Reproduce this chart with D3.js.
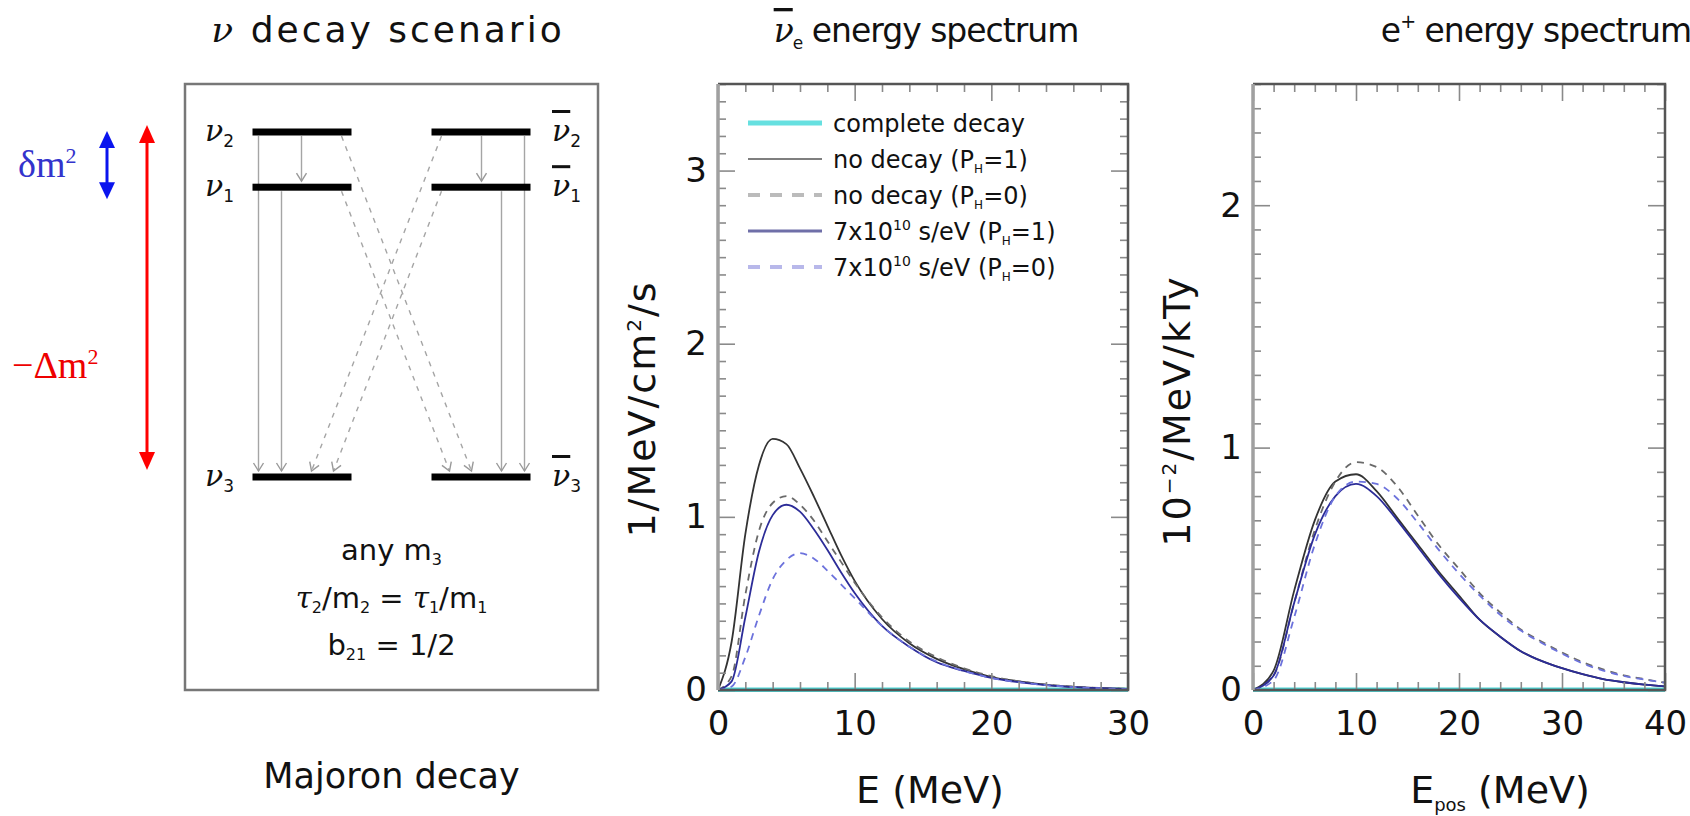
<!DOCTYPE html>
<html lang="en">
<head>
<meta charset="utf-8">
<title>Majoron decay spectra</title>
<script src="https://cdn.jsdelivr.net/npm/d3@7"></script>
<style>
  body { margin: 0; background: #fff; }
  svg text { font-family: "DejaVu Sans", sans-serif; fill: #111; }
  .serif { font-family: "DejaVu Serif", serif; font-style: italic; }
  .times { font-family: "Liberation Serif", serif; }
</style>
</head>
<body>
<svg id="chart" width="1690" height="816"></svg>
<script>
"use strict";

// ---- values ----

// anti-nu_e flux spectrum, 1/MeV/cm^2/s
const nuEnergy      = [0, 1, 2, 3, 4, 5, 6, 7, 8, 9, 10, 12, 14, 16, 18, 20, 22, 24, 26, 28, 30];
const nuComplete    = [0, 0, 0, 0, 0, 0, 0, 0, 0, 0, 0, 0, 0, 0, 0, 0, 0, 0, 0, 0, 0];
const nuNoDecayPH1  = [0, 0.28, 0.90, 1.30, 1.45, 1.42, 1.28, 1.12, 0.95, 0.78, 0.63, 0.41, 0.27, 0.18, 0.12, 0.075, 0.05, 0.03, 0.018, 0.01, 0.006];
const nuNoDecayPH0  = [0, 0.08, 0.55, 0.92, 1.08, 1.12, 1.07, 0.98, 0.86, 0.74, 0.62, 0.42, 0.28, 0.19, 0.125, 0.08, 0.05, 0.032, 0.02, 0.012, 0.007];
const nuDecayPH1    = [0, 0.05, 0.42, 0.80, 1.01, 1.07, 1.03, 0.93, 0.81, 0.68, 0.56, 0.37, 0.25, 0.16, 0.11, 0.07, 0.045, 0.028, 0.017, 0.01, 0.005];
const nuDecayPH0    = [0, 0.02, 0.19, 0.43, 0.64, 0.75, 0.79, 0.76, 0.69, 0.61, 0.53, 0.37, 0.25, 0.165, 0.11, 0.07, 0.045, 0.028, 0.017, 0.01, 0.005];

// positron spectrum, 10^-2/MeV/kTy
const posEnergy     = [0, 2, 4, 6, 8, 10, 12, 14, 16, 18, 20, 22, 24, 26, 28, 30, 32, 34, 36, 38, 40];
const posComplete   = [0, 0, 0, 0, 0, 0, 0, 0, 0, 0, 0, 0, 0, 0, 0, 0, 0, 0, 0, 0, 0];
const posNoDecayPH1 = [0, 0.08, 0.41, 0.70, 0.86, 0.89, 0.82, 0.71, 0.60, 0.49, 0.39, 0.29, 0.22, 0.16, 0.12, 0.09, 0.065, 0.045, 0.032, 0.022, 0.015];
const posNoDecayPH0 = [0, 0.06, 0.36, 0.66, 0.86, 0.94, 0.92, 0.84, 0.72, 0.60, 0.50, 0.40, 0.32, 0.25, 0.20, 0.155, 0.115, 0.085, 0.06, 0.045, 0.03];
const posDecayPH1   = [0, 0.06, 0.36, 0.64, 0.80, 0.85, 0.80, 0.70, 0.59, 0.48, 0.38, 0.29, 0.22, 0.16, 0.12, 0.09, 0.065, 0.045, 0.032, 0.022, 0.015];
const posDecayPH0   = [0, 0.04, 0.30, 0.60, 0.80, 0.86, 0.85, 0.79, 0.69, 0.58, 0.48, 0.39, 0.31, 0.245, 0.195, 0.15, 0.11, 0.08, 0.058, 0.043, 0.03];

const nuTicksY  = [0, 1, 2, 3];
const nuTicksX  = [0, 10, 20, 30];
const posTicksY = [0, 1, 2];
const posTicksX = [0, 10, 20, 30, 40];

const legendKeys = ["complete", "noDecay1", "noDecay0", "decay1", "decay0"];

// level scheme: relative mass position (nu3 bottom, nu2 top)
const levels = [
  { id: "2", mass: 1.0 },
  { id: "1", mass: 0.84 },
  { id: "3", mass: 0.0 }
];
// decays drawn on the neutrino side, mirrored for antineutrinos
const decays = [
  { from: "2", to: "1", flip: false },
  { from: "2", to: "3", flip: false },
  { from: "1", to: "3", flip: false },
  { from: "2", to: "3", flip: true },
  { from: "1", to: "3", flip: true }
];

// ---- styles ----
const styles = {
  complete: { stroke: "#4dd4d4", width: 5 },
  noDecay1: { stroke: "#333",    width: 1.8 },
  noDecay0: { stroke: "#6a6a6a", width: 1.8, dash: "7,6" },
  decay1:   { stroke: "#2c2c98", width: 1.8 },
  decay0:   { stroke: "#6c72dc", width: 1.8, dash: "7,6" }
};
const legendStyles = {
  complete: { stroke: "#66e0e0", width: 5 },
  noDecay1: { stroke: "#555",    width: 1.5 },
  noDecay0: { stroke: "#bbb",    width: 4, dash: "12,10" },
  decay1:   { stroke: "#6f6fa8", width: 3 },
  decay0:   { stroke: "#b8b8ea", width: 4, dash: "12,10" }
};

const svg = d3.select("#chart");
const plotTop = 84, plotBottom = 690;

// ---------- spectrum panels ----------
function spectrumPanel(cfg) {
  const x = d3.scaleLinear().domain(cfg.xDomain).range([cfg.left, cfg.right]);
  const y = d3.scaleLinear().domain(cfg.yDomain).range([plotBottom, plotTop]);
  const g = svg.append("g");

  const clipId = "clip" + cfg.left;
  g.append("clipPath").attr("id", clipId).append("rect")
    .attr("x", cfg.left).attr("y", plotTop - 2)
    .attr("width", cfg.right - cfg.left).attr("height", plotBottom - plotTop + 4);

  const line = d3.line().x(d => x(d[0])).y(d => y(d[1])).curve(d3.curveMonotoneX);
  const curves = g.append("g").attr("clip-path", `url(#${clipId})`);
  cfg.series.forEach(s => {
    const st = styles[s.key];
    curves.append("path")
      .datum(cfg.energy.map((e, i) => [e, s.values[i]]))
      .attr("fill", "none")
      .attr("stroke", st.stroke)
      .attr("stroke-width", st.width)
      .attr("stroke-dasharray", st.dash || null)
      .attr("d", line);
  });

  const majorX = cfg.ticksX;
  const minorX = d3.range(cfg.xDomain[0], cfg.xDomain[1] + 0.01, 2).filter(v => !majorX.includes(v));
  const majorY = d3.range(cfg.yDomain[0], cfg.yDomain[1] + 0.01, 1);
  const minorY = d3.range(cfg.yDomain[0], cfg.yDomain[1] + 0.001, 0.1)
    .map(v => +v.toFixed(2)).filter(v => Math.abs(v - Math.round(v)) > 0.01);

  const axes = [
    [d3.axisBottom(x).tickValues(minorX), `translate(0,${plotBottom})`, 8],
    [d3.axisTop(x).tickValues(minorX), `translate(0,${plotTop})`, 8],
    [d3.axisTop(x).tickValues(majorX), `translate(0,${plotTop})`, 17],
    [d3.axisLeft(y).tickValues(minorY), `translate(${cfg.left},0)`, 8],
    [d3.axisRight(y).tickValues(minorY), `translate(${cfg.right},0)`, 8],
    [d3.axisRight(y).tickValues(majorY), `translate(${cfg.right},0)`, 17]
  ];
  axes.forEach(([ax, tr, len]) => {
    const a = g.append("g").attr("transform", tr)
      .call(ax.tickSize(-len).tickFormat(""));
    a.select(".domain").remove();
    a.selectAll("line").attr("stroke", "#8a8a8a").attr("stroke-width", 1.6);
  });

  // labelled axes
  const bx = g.append("g").attr("transform", `translate(0,${plotBottom})`)
    .call(d3.axisBottom(x).tickValues(majorX).tickSize(-17).tickPadding(21).tickFormat(d3.format("d")));
  const ly = g.append("g").attr("transform", `translate(${cfg.left},0)`)
    .call(d3.axisLeft(y).tickValues(cfg.ticksY).tickSize(-17).tickPadding(11).tickFormat(d3.format("d")));
  [bx, ly].forEach(a => {
    a.select(".domain").remove();
    a.selectAll("line").attr("stroke", "#8a8a8a").attr("stroke-width", 1.6);
    a.selectAll("text").attr("font-size", 34).attr("font-family", "DejaVu Sans").attr("fill", "#111");
  });

  // frame
  g.append("path")
    .attr("d", `M${cfg.left},${plotTop}H${cfg.right}V${plotBottom}H${cfg.left}`)
    .attr("fill", "none").attr("stroke", "#555").attr("stroke-width", 2.5);
  g.append("line")
    .attr("x1", cfg.left).attr("x2", cfg.left).attr("y1", plotTop).attr("y2", plotBottom)
    .attr("stroke", "#a0a0a0").attr("stroke-width", 3.5);

  return { x, y, g };
}

spectrumPanel({
  left: 718, right: 1128, xDomain: [0, 30], yDomain: [0, 3.5],
  ticksX: nuTicksX, ticksY: nuTicksY, energy: nuEnergy,
  series: [
    { key: "complete", values: nuComplete },
    { key: "noDecay1", values: nuNoDecayPH1 },
    { key: "noDecay0", values: nuNoDecayPH0 },
    { key: "decay1",   values: nuDecayPH1 },
    { key: "decay0",   values: nuDecayPH0 }
  ]
});

spectrumPanel({
  left: 1253, right: 1665, xDomain: [0, 40], yDomain: [0, 2.5],
  ticksX: posTicksX, ticksY: posTicksY, energy: posEnergy,
  series: [
    { key: "complete", values: posComplete },
    { key: "noDecay1", values: posNoDecayPH1 },
    { key: "noDecay0", values: posNoDecayPH0 },
    { key: "decay1",   values: posDecayPH1 },
    { key: "decay0",   values: posDecayPH0 }
  ]
});

// legend in the middle panel
const legend = svg.append("g").attr("transform", "translate(748,123)");
legendKeys.forEach((k, i) => {
  const st = legendStyles[k];
  const row = legend.append("g").attr("transform", `translate(0,${i * 36})`);
  row.append("line").attr("x1", 0).attr("x2", 74)
    .attr("stroke", st.stroke).attr("stroke-width", st.width)
    .attr("stroke-dasharray", st.dash || null);
  const t = row.append("text").attr("x", 85).attr("y", 9).attr("font-size", 24);
  if (k === "complete") t.text("complete decay");
  else {
    const ph = k.endsWith("1") ? "1" : "0";
    if (k.startsWith("noDecay")) t.append("tspan").text("no decay (P");
    else {
      t.append("tspan").text("7x10");
      t.append("tspan").attr("dy", -10).attr("font-size", 14).text("10");
      t.append("tspan").attr("dy", 10).text(" s/eV (P");
    }
    t.append("tspan").attr("dy", 5).attr("font-size", 12).text("H");
    t.append("tspan").attr("dy", -5).text("=" + ph + ")");
  }
});

// titles and axis labels
function title(xc, size, spacing, build) {
  const t = svg.append("text").attr("x", xc).attr("y", 42)
    .attr("text-anchor", "middle").attr("font-size", size)
    .attr("letter-spacing", spacing);
  build(t);
}
title(388, 36, 3, t => {
  t.append("tspan").attr("class", "serif").text("ν");
  t.append("tspan").text(" decay scenario");
});
title(926, 33, -1, t => {
  t.append("tspan").attr("class", "serif").style("text-decoration", "overline").text("ν");
  t.append("tspan").attr("dy", 7).attr("font-size", 17).text("e");
  t.append("tspan").attr("dy", -7).text(" energy spectrum");
});
title(1536, 33, -1, t => {
  t.append("tspan").text("e");
  t.append("tspan").attr("dy", -14).attr("font-size", 19).text("+");
  t.append("tspan").attr("dy", 14).text(" energy spectrum");
});

svg.append("text").attr("x", 930).attr("y", 803)
  .attr("text-anchor", "middle").attr("font-size", 38).text("E (MeV)");
const xl2 = svg.append("text").attr("x", 1500).attr("y", 803)
  .attr("text-anchor", "middle").attr("font-size", 38);
xl2.append("tspan").text("E");
xl2.append("tspan").attr("dy", 8).attr("font-size", 18).text("pos");
xl2.append("tspan").attr("dy", -8).text(" (MeV)");

const yl1 = svg.append("text").attr("transform", "translate(655,409) rotate(-90)")
  .attr("text-anchor", "middle").attr("font-size", 38).attr("letter-spacing", 2);
yl1.append("tspan").text("1/MeV/cm");
yl1.append("tspan").attr("dy", -14).attr("font-size", 20).text("2");
yl1.append("tspan").attr("dy", 14).text("/s");

const yl2 = svg.append("text").attr("transform", "translate(1190,411) rotate(-90)")
  .attr("text-anchor", "middle").attr("font-size", 38).attr("letter-spacing", 2);
yl2.append("tspan").text("10");
yl2.append("tspan").attr("dy", -14).attr("font-size", 20).text("−2");
yl2.append("tspan").attr("dy", 14).text("/MeV/kTy");

// ---------- decay scheme panel ----------
const box = { left: 185, right: 598, top: 84, bottom: 690 };
const cx = (box.left + box.right) / 2;
svg.append("rect")
  .attr("x", box.left).attr("y", box.top)
  .attr("width", box.right - box.left).attr("height", box.bottom - box.top)
  .attr("fill", "none").attr("stroke", "#777").attr("stroke-width", 2.5);

const yLevel = d3.scaleLinear().domain([0, 1]).range([477, 132]);
const levelY = id => yLevel(levels.find(l => l.id === id).mass);
const barIn = 40, barOut = 139; // bar extent measured from the centre

const scheme = svg.append("g");
// arrow x offsets on the neutrino side (negative = left of centre)
const solidSlot = { "2-3": -133, "1-3": -110, "2-1": -90 };
const flipStart = -50;
const flipEnd = { "1": 58, "2": 80 };

function arrowHead(g, x, y, angle) {
  const s = 8, w = 5;
  const p = [[-w, -s], [0, 0], [w, -s]].map(([dx, dy]) => {
    const c = Math.cos(angle), sn = Math.sin(angle);
    return [x + dx * c - dy * sn, y + dx * sn + dy * c];
  });
  g.append("path").attr("d", d3.line()(p))
    .attr("fill", "none").attr("stroke", "#999").attr("stroke-width", 1.4);
}

[-1, 1].forEach(side => {
  // side -1: neutrinos (left), +1: antineutrinos (mirror)
  const mx = v => cx + (side < 0 ? v : -v);
  decays.forEach(d => {
    const y0 = levelY(d.from) + 4, y1 = levelY(d.to) - 6;
    let x0, x1;
    if (!d.flip) { x0 = x1 = mx(solidSlot[d.from + "-" + d.to]); }
    else { x0 = mx(flipStart); x1 = mx(flipEnd[d.from]); }
    scheme.append("line")
      .attr("x1", x0).attr("y1", y0).attr("x2", x1).attr("y2", y1)
      .attr("stroke", "#a5a5a5").attr("stroke-width", 1.4)
      .attr("stroke-dasharray", d.flip ? "5,6" : null);
    const ang = Math.atan2(y1 - y0, x1 - x0) - Math.PI / 2;
    arrowHead(scheme, x1, y1, ang);
  });
  levels.forEach(l => {
    const yy = yLevel(l.mass);
    const xa = side < 0 ? cx - barOut : cx + barIn;
    scheme.append("rect").attr("x", xa).attr("y", yy - 3.5)
      .attr("width", barOut - barIn).attr("height", 7).attr("fill", "#000");
    const lbl = scheme.append("text")
      .attr("x", side < 0 ? 205 : 552).attr("y", yy + 9).attr("font-size", 30);
    const nu = lbl.append("tspan").attr("class", "serif").text("ν");
    if (side > 0) nu.style("text-decoration", "overline");
    lbl.append("tspan").attr("dy", 6).attr("font-size", 17).text(l.id);
  });
});

// text in the box
const tb = svg.append("g").attr("text-anchor", "middle").attr("font-size", 29);
const t1 = tb.append("text").attr("x", cx).attr("y", 560);
t1.append("tspan").text("any m");
t1.append("tspan").attr("dy", 5).attr("font-size", 16).text("3");
const t2 = tb.append("text").attr("x", cx).attr("y", 608);
t2.append("tspan").attr("class", "serif").text("τ");
t2.append("tspan").attr("dy", 5).attr("font-size", 16).text("2");
t2.append("tspan").attr("dy", -5).text("/m");
t2.append("tspan").attr("dy", 5).attr("font-size", 16).text("2");
t2.append("tspan").attr("dy", -5).text(" = ");
t2.append("tspan").attr("class", "serif").text("τ");
t2.append("tspan").attr("dy", 5).attr("font-size", 16).text("1");
t2.append("tspan").attr("dy", -5).text("/m");
t2.append("tspan").attr("dy", 5).attr("font-size", 16).text("1");
const t3 = tb.append("text").attr("x", cx).attr("y", 655);
t3.append("tspan").text("b");
t3.append("tspan").attr("dy", 5).attr("font-size", 16).text("21");
t3.append("tspan").attr("dy", -5).text(" = 1/2");

svg.append("text").attr("x", cx).attr("y", 788).attr("text-anchor", "middle")
  .attr("font-size", 35).text("Majoron decay");

// mass splitting arrows
function doubleArrow(x, y0, y1, color, hw, hl) {
  const g = svg.append("g").attr("fill", color);
  g.append("line").attr("x1", x).attr("x2", x).attr("y1", y0 + hl - 2).attr("y2", y1 - hl + 2)
    .attr("stroke", color).attr("stroke-width", 3);
  g.append("path").attr("d", `M${x},${y0}L${x - hw},${y0 + hl}L${x + hw},${y0 + hl}Z`);
  g.append("path").attr("d", `M${x},${y1}L${x - hw},${y1 - hl}L${x + hw},${y1 - hl}Z`);
}
doubleArrow(107, yLevel(1) - 1, yLevel(0.84) + 12, "#0a14ee", 8, 17);
doubleArrow(147, yLevel(1) - 7, yLevel(0) - 7, "#ff0000", 8, 18);

const dm = svg.append("text").attr("class", "times").attr("x", 18).attr("y", 177)
  .attr("font-size", 38).style("fill", "#3333cc");
dm.append("tspan").text("δm");
dm.append("tspan").attr("dy", -14).attr("font-size", 22).text("2");
const Dm = svg.append("text").attr("class", "times").attr("x", 12).attr("y", 378)
  .attr("font-size", 38).style("fill", "#ee0000");
Dm.append("tspan").text("−Δm");
Dm.append("tspan").attr("dy", -14).attr("font-size", 22).text("2");
</script>
</body>
</html>
